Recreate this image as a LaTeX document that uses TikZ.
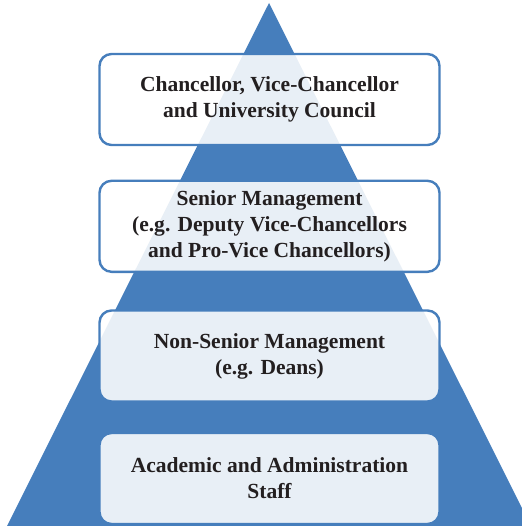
\documentclass[tikz,border=0pt]{standalone}
\usepackage{fontspec}
\setmainfont{Liberation Serif}
\definecolor{pyrblue}{RGB}{70,126,188}
\definecolor{inktext}{RGB}{35,31,32}
\begin{document}
\begin{tikzpicture}[x=1bp,y=-1bp,
  tier/.style={draw=pyrblue, line width=2.4bp, fill=white, fill opacity=0.88,
    text opacity=1, rounded corners=12bp, minimum width=340bp,
    minimum height=91bp, align=center, inner sep=0pt, text=inktext,
    font=\fontsize{21.6}{26}\selectfont\bfseries}]
\useasboundingbox (0,0) rectangle (522,526);
% pyramid behind the tiers
\begin{scope}
  \clip (0,0) rectangle (522,526);
  \fill[pyrblue] (269,3) -- (531,526) -- (7,526) -- cycle;
\end{scope}
% the four tiers, top to bottom
\node[tier] (council) at (269.5,99.5) {Chancellor, Vice-Chancellor\\and University Council};
\node[tier] (senior) at (269.5,226.3) {Senior Management\\(e.g. Deputy Vice-Chancellors\\and Pro-Vice Chancellors)};
\node[tier] (nonsenior) at (269.5,356) {Non-Senior Management\\(e.g. Deans)};
\node[tier] (staff) at (269.5,478.5) {Academic and Administration\\Staff};
\end{tikzpicture}
\end{document}
